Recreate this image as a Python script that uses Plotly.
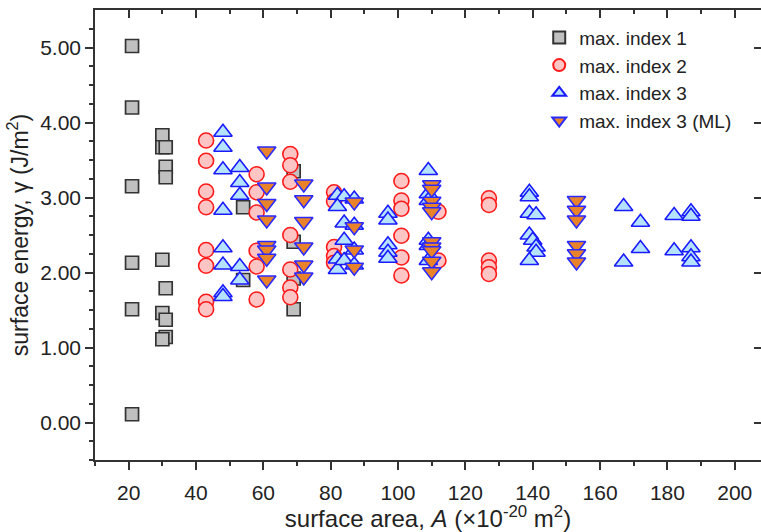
import plotly.graph_objects as go

# ---- data ----
idx1_x = [21, 21, 21, 21, 21, 21,
          30, 30, 31, 31, 31,
          30, 31, 30, 31, 31, 30,
          54, 54, 69, 69, 69, 69]
idx1_y = [5.02, 4.20, 3.15, 2.13, 1.51, 0.11,
          3.83, 3.67, 3.67, 3.41, 3.27,
          2.17, 1.79, 1.46, 1.37, 1.14, 1.11,
          2.87, 1.90, 3.35, 2.41, 1.92, 1.51]

idx2_x = [43, 43, 43, 43, 43, 43, 43, 43,
          58, 58, 58, 58, 58, 58,
          68, 68, 68, 68, 68, 68, 68,
          81, 81, 81, 81, 81,
          101, 101, 101, 101, 101, 101,
          112, 112,
          127, 127, 127, 127, 127]
idx2_y = [3.76, 3.49, 3.08, 2.87, 2.30, 2.09, 1.61, 1.51,
          3.31, 3.07, 2.80, 2.29, 2.08, 1.64,
          3.58, 3.43, 3.21, 2.50, 2.04, 1.80, 1.67,
          3.07, 2.95, 2.34, 2.22, 2.13,
          3.22, 2.96, 2.85, 2.49, 2.20, 1.96,
          2.81, 2.16,
          2.99, 2.90, 2.16, 2.07, 1.98]

idx3_x = [48, 48, 48, 48, 48, 48, 48, 48,
          53, 53, 53, 53, 53,
          82, 84, 82, 84, 84, 82, 82, 84, 87, 87, 87, 87,
          97, 97, 97, 97, 97,
          109, 109, 109, 109, 109, 109,
          139, 139, 139, 141, 139, 140, 141, 141, 139,
          167, 172, 182, 187, 187, 172, 167, 182, 187, 187, 187]
idx3_y = [3.87, 3.67, 3.37, 2.83, 2.33, 2.10, 1.73, 1.68,
          3.40, 3.20, 3.03, 2.08, 1.90,
          3.03, 3.01, 2.88, 2.66, 2.43, 2.18, 2.04, 2.16, 2.98, 2.63, 2.30, 2.10,
          2.79, 2.70, 2.37, 2.27, 2.19,
          3.36, 3.05, 2.96, 2.43, 2.36, 2.16,
          3.07, 3.01, 2.79, 2.77, 2.50, 2.43, 2.34, 2.27, 2.16,
          2.88, 2.67, 2.76, 2.81, 2.75, 2.32, 2.14, 2.29, 2.33, 2.21, 2.14]

idx3ml_x = [61, 61, 61, 61, 61, 61, 61, 61,
            72, 72, 72, 72, 72, 72,
            87, 87, 87, 87,
            110, 110, 110, 110, 110, 110, 110, 110, 110, 110,
            153, 153, 153, 153, 153, 153]
idx3ml_y = [3.62, 3.14, 2.92, 2.70, 2.36, 2.30, 2.19, 1.90,
            3.18, 2.97, 2.68, 2.34, 2.10, 1.94,
            2.94, 2.61, 2.30, 2.07,
            3.17, 3.11, 2.95, 2.87, 2.81, 2.41, 2.34, 2.29, 2.15, 2.01,
            2.96, 2.83, 2.70, 2.36, 2.25, 2.14]

series_names = ["max. index 1", "max. index 2", "max. index 3", "max. index 3 (ML)"]

x_ticks = list(range(20, 201, 20))
y_ticks = [0, 1, 2, 3, 4, 5]
y_ticktext = [f"{v:.2f}" for v in y_ticks]

X_RANGE = [10, 207.8]
Y_RANGE = [-0.5, 5.5]

AX = "#333333"
FONT = "Liberation Sans, Arial, sans-serif"

fig = go.Figure()

fig.add_trace(go.Scatter(
    x=idx1_x, y=idx1_y, mode="markers", name=series_names[0],
    marker=dict(symbol="square", size=13, color="#c0c0c0",
                line=dict(color="#333333", width=1.7))))
fig.add_trace(go.Scatter(
    x=idx2_x, y=idx2_y, mode="markers", name=series_names[1],
    marker=dict(symbol="circle", size=15, color="#ffc4c4",
                line=dict(color="#ff1a1a", width=1.6))))
fig.add_trace(go.Scatter(
    x=idx3_x, y=idx3_y, mode="markers", name=series_names[2],
    marker=dict(symbol="triangle-up", size=16, color="#b5e3ff",
                line=dict(color="#1a1aff", width=1.6))))
fig.add_trace(go.Scatter(
    x=idx3ml_x, y=idx3ml_y, mode="markers", name=series_names[3],
    marker=dict(symbol="triangle-down", size=16, color="#e8832c",
                line=dict(color="#2a2aff", width=1.6))))

# helper trace so the mirrored top/right axes are drawn
fig.add_trace(go.Scatter(x=[None], y=[None], xaxis="x2", yaxis="y2",
                         showlegend=False, hoverinfo="skip"))

fig.update_layout(
    width=761, height=532,
    margin=dict(l=95, r=0, t=10, b=72),
    paper_bgcolor="white", plot_bgcolor="white",
    font=dict(family=FONT, size=19, color="#222222"),
    showlegend=True,
    legend=dict(x=0.667, y=0.981, xanchor="left", yanchor="top",
                bgcolor="rgba(0,0,0,0)", font=dict(size=19),
                tracegroupgap=0, itemsizing="constant"),
    xaxis=dict(
        range=X_RANGE, showgrid=False, zeroline=False,
        showline=True, linecolor=AX, linewidth=1.6,
        tickmode="array", tickvals=x_ticks, ticktext=[str(v) for v in x_ticks],
        ticks="outside", ticklen=8, tickwidth=1.5, tickcolor=AX,
        minor=dict(tickvals=list(range(10, 211, 20)), ticks="outside",
                   ticklen=4, tickwidth=1.5, tickcolor=AX),
        tickfont=dict(size=21), ticklabelstandoff=5,
        title=dict(text="surface area, <i>A</i> (×10<sup>-20</sup> m<sup>2</sup>)",
                   font=dict(size=24), standoff=1),
    ),
    yaxis=dict(
        range=Y_RANGE, showgrid=False, zeroline=False,
        showline=True, linecolor=AX, linewidth=1.6,
        tickmode="array", tickvals=y_ticks, ticktext=y_ticktext,
        ticks="outside", ticklen=8, tickwidth=1.5, tickcolor=AX,
        minor=dict(tickvals=[v / 4 for v in range(-2, 22)], ticks="outside",
                   ticklen=4, tickwidth=1.5, tickcolor=AX),
        tickfont=dict(size=21),
        title=dict(text="surface energy, γ (J/m<sup>2</sup>)",
                   font=dict(size=23), standoff=5),
    ),
    xaxis2=dict(
        overlaying="x", side="top", anchor="y2",
        range=X_RANGE, showgrid=False, zeroline=False,
        showline=True, linecolor=AX, linewidth=1.6,
        tickmode="array", tickvals=x_ticks, showticklabels=False,
        ticks="inside", ticklen=8, tickwidth=1.5, tickcolor=AX,
        minor=dict(tickvals=list(range(10, 211, 20)), ticks="inside",
                   ticklen=4, tickwidth=1.5, tickcolor=AX),
    ),
    yaxis2=dict(
        overlaying="y", side="right", anchor="x2",
        range=Y_RANGE, showgrid=False, zeroline=False,
        showline=False,
        tickmode="array", tickvals=y_ticks, showticklabels=False,
        ticks="inside", ticklen=7, tickwidth=1.5, tickcolor=AX,
    ),
)

fig.write_html("out.html")
